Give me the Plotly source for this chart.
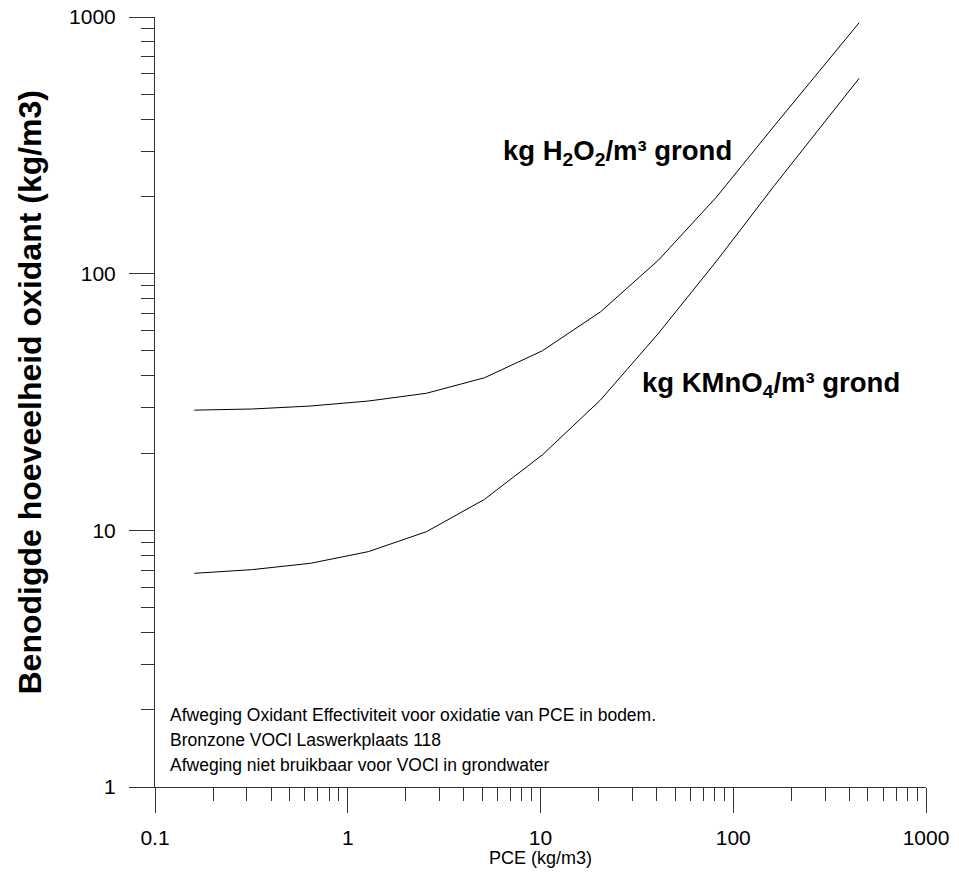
import plotly.graph_objects as go

# Data
pce = [0.16, 0.32, 0.64, 1.28, 2.56, 5.12, 10.24, 20.48, 40.96, 81.92, 163.84, 327.68, 450]
h2o2 = [29.4, 29.7, 30.5, 31.9, 34.2, 39.3, 50.1, 71.0, 113, 199, 378, 712, 950]
kmno4 = [6.8, 7.03, 7.44, 8.26, 9.88, 13.2, 19.7, 32.2, 58.6, 112, 221, 427, 577]

x_tickvals = [0.1, 1, 10, 100, 1000]
x_ticktext = ["0.1", "1", "10", "100", "1000"]
y_tickvals = [1, 10, 100, 1000]
y_ticktext = ["1", "10", "100", "1000"]

x_title = "PCE (kg/m3)"
y_title = "<b>Benodigde hoeveelheid oxidant (kg/m3)</b>"
note_lines = [
    "Afweging Oxidant Effectiviteit voor oxidatie van PCE in bodem.",
    "Bronzone VOCl Laswerkplaats 118",
    "Afweging niet bruikbaar voor VOCl in grondwater",
]
label_h2o2 = "<b>kg H<sub>2</sub>O<sub>2</sub>/m³ grond</b>"
label_kmno4 = "<b>kg KMnO<sub>4</sub>/m³ grond</b>"

FONT = "Liberation Sans, Arial, Helvetica, sans-serif"
AX = "#333333"

W, H = 959, 875
# plot area in screen pixels
PX0, PX1, PY0, PY1 = 155, 926, 17, 787
PW, PH = PX1 - PX0, PY1 - PY0


def px(xp):
    return (xp - PX0) / PW


def py(yp):
    return (PY1 - yp) / PH


fig = go.Figure()
fig.add_trace(go.Scatter(x=pce, y=h2o2, mode="lines", line=dict(color="black", width=1),
                         showlegend=False, name="H2O2"))
fig.add_trace(go.Scatter(x=pce, y=kmno4, mode="lines", line=dict(color="black", width=1),
                         showlegend=False, name="KMnO4"))

axis_common = dict(
    type="log", showgrid=False, zeroline=False, showline=True, linecolor=AX, linewidth=1,
    ticks="outside", ticklen=25, tickwidth=1, tickcolor=AX,
    minor=dict(ticks="outside", ticklen=13, tickwidth=1, tickcolor=AX, dtick="D1", showgrid=False),
    tickfont=dict(family=FONT, size=21, color="black"), mirror=False,
    ticklabeloverflow="allow",
)

fig.update_xaxes(range=[-1, 3], tickvals=x_tickvals, ticktext=x_ticktext,
                 ticklabelstandoff=7, **axis_common)
fig.update_yaxes(range=[0, 3], tickvals=y_tickvals, ticktext=y_ticktext,
                 ticklabelstandoff=9, **axis_common)

annotations = []
for i, line in enumerate(note_lines):
    annotations.append(dict(text=line, xref="paper", yref="paper",
                            x=px(168), y=py(714.5 + 25 * i),
                            xanchor="left", yanchor="middle", showarrow=False,
                            font=dict(family=FONT, size=17.5, color="black")))
annotations.append(dict(text=label_h2o2, xref="paper", yref="paper",
                        x=px(501), y=py(152),
                        xanchor="left", yanchor="middle", showarrow=False,
                        font=dict(family=FONT, size=27.5, color="black")))
annotations.append(dict(text=label_kmno4, xref="paper", yref="paper",
                        x=px(640), y=py(384),
                        xanchor="left", yanchor="middle", showarrow=False,
                        font=dict(family=FONT, size=27.5, color="black")))
# axis titles
annotations.append(dict(text=x_title, xref="paper", yref="paper",
                        x=0.5, y=py(858), xanchor="center", yanchor="middle",
                        showarrow=False, font=dict(family=FONT, size=18, color="black")))
annotations.append(dict(text=y_title, xref="paper", yref="paper",
                        x=px(29), y=py(392.5), xanchor="center", yanchor="middle",
                        textangle=-90, showarrow=False,
                        font=dict(family=FONT, size=32, color="black")))

fig.update_layout(
    template="none",
    width=W, height=H, autosize=False,
    margin=dict(l=PX0, r=W - PX1, t=PY0, b=H - PY1, autoexpand=False),
    paper_bgcolor="white", plot_bgcolor="white",
    font=dict(family=FONT, color="black"),
    annotations=annotations,
    showlegend=False,
)

fig.write_html(
    "out.html",
    config={"displayModeBar": False},
    post_script="document.body.style.margin='0';document.body.style.overflow='hidden';",
)
